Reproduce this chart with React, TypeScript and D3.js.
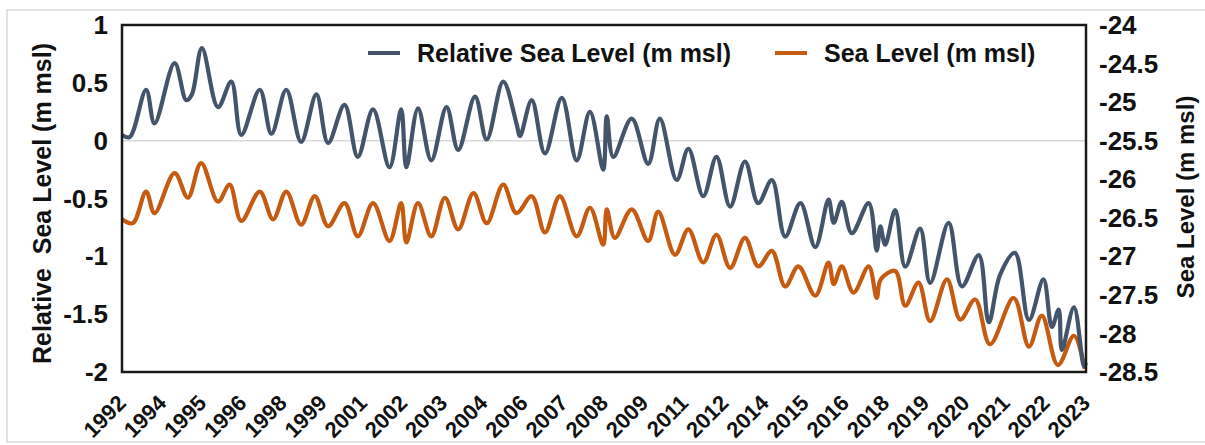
import React from 'react';
import * as d3 from 'd3';

// x positions are in axis-label units (0 = first label "1992", 24 = last label "2023")
const yearLabels = [
  '1992', '1994', '1995', '1996', '1998', '1999', '2001', '2002', '2003', '2004',
  '2006', '2007', '2008', '2009', '2011', '2012', '2014', '2015', '2016', '2018',
  '2019', '2020', '2021', '2022', '2023',
];

const leftTicks = [1, 0.5, 0, -0.5, -1, -1.5, -2];
const rightTicks = [-24, -24.5, -25, -25.5, -26, -26.5, -27, -27.5, -28, -28.5];

const relPos = [
  0, 0.19, 0.6, 0.81, 1.31, 1.6, 1.74, 1.99, 2.39, 2.72, 2.97, 3.43, 3.72, 4.09, 4.46,
  4.84, 5.13, 5.54, 5.87, 6.25, 6.66, 6.95, 7.08, 7.37, 7.7, 8.08, 8.37, 8.79, 9.08,
  9.49, 9.82, 9.91, 10.2, 10.53, 10.95, 11.32, 11.65, 11.98, 12.07, 12.23, 12.69,
  13.1, 13.39, 13.81, 14.1, 14.47, 14.8, 15.14, 15.51, 15.84, 16.18, 16.51, 16.89,
  17.26, 17.59, 17.72, 17.92, 18.17, 18.59, 18.79, 18.88, 19.0, 19.25, 19.5, 19.87,
  20.12, 20.58, 20.91, 21.33, 21.58, 21.86, 22.23, 22.58, 22.94, 23.15, 23.32, 23.4,
  23.7, 23.95, 24,
];
const relVals = [
  0.05, 0.03, 0.44, 0.15, 0.67, 0.35, 0.4, 0.8, 0.29, 0.51, 0.05, 0.44, 0.06, 0.44, -0.01,
  0.4, -0.02, 0.31, -0.14, 0.27, -0.23, 0.27, -0.23, 0.28, -0.17, 0.29, -0.08, 0.38, 0.01,
  0.51, 0.15, 0.04, 0.35, -0.11, 0.37, -0.17, 0.25, -0.25, 0.21, -0.14, 0.19,
  -0.2, 0.19, -0.34, -0.07, -0.48, -0.14, -0.57, -0.18, -0.54, -0.34, -0.83, -0.54,
  -0.92, -0.51, -0.71, -0.53, -0.8, -0.54, -0.95, -0.74, -0.9, -0.6, -1.09, -0.76,
  -1.23, -0.71, -1.26, -0.99, -1.57, -1.16, -0.97, -1.55, -1.2, -1.61, -1.46, -1.81,
  -1.44, -1.95, -1.92,
];

const seaPos = [
  0, 0.27, 0.6, 0.81, 1.31, 1.64, 1.97, 2.39, 2.68, 2.97, 3.43, 3.76, 4.09, 4.46, 4.8,
  5.13, 5.54, 5.87, 6.25, 6.66, 6.95, 7.08, 7.37, 7.7, 8.04, 8.37, 8.75, 9.08, 9.49,
  9.82, 10.2, 10.53, 10.9, 11.32, 11.65, 11.98, 12.07, 12.27, 12.69, 13.1, 13.35,
  13.77, 14.1, 14.47, 14.8, 15.14, 15.51, 15.84, 16.18, 16.51, 16.84, 17.26, 17.59,
  17.72, 17.92, 18.21, 18.59, 18.79, 18.89, 19.25, 19.5, 19.83, 20.12, 20.54, 20.87,
  21.24, 21.61, 22.2, 22.58, 22.9, 23.3, 23.7, 23.97,
];
const seaVals = [
  -26.52, -26.57, -26.16, -26.44, -25.92, -26.24, -25.79, -26.29, -26.07, -26.54, -26.16,
  -26.52, -26.16, -26.59, -26.22, -26.61, -26.31, -26.74, -26.31, -26.8, -26.31, -26.82,
  -26.31, -26.74, -26.24, -26.65, -26.18, -26.57, -26.07, -26.44, -26.22, -26.69, -26.22,
  -26.74, -26.37, -26.85, -26.39, -26.76, -26.39, -26.8, -26.42, -26.98, -26.65, -27.08,
  -26.72, -27.15, -26.76, -27.13, -26.93, -27.39, -27.13, -27.51, -27.08, -27.36, -27.13,
  -27.47, -27.13, -27.54, -27.3, -27.19, -27.64, -27.34, -27.84, -27.3, -27.82, -27.56,
  -28.14, -27.54, -28.17, -27.77, -28.41, -28.03, -28.46,
];

const BLUE = '#44546a';
const ORANGE = '#c55a11';
const FONT = '"Liberation Sans", Arial, sans-serif';

export default function App() {
  const width = 1205;
  const height = 445;
  const margin = { top: 25, right: 119, bottom: 73, left: 122 };
  const x0 = margin.left;
  const x1 = width - margin.right;
  const y0 = margin.top;
  const y1 = height - margin.bottom;

  const x = d3.scaleLinear().domain([0, yearLabels.length - 1]).range([x0, x1]);
  const yLeft = d3.scaleLinear().domain([-2, 1]).range([y1, y0]);
  const yRight = d3.scaleLinear().domain([-28.5, -24]).range([y1, y0]);

  const relLine = d3
    .line<number>()
    .x((d, i) => x(relPos[i]))
    .y((d) => yLeft(d))
    .curve(d3.curveCatmullRom.alpha(0.5));
  const seaLine = d3
    .line<number>()
    .x((d, i) => x(seaPos[i]))
    .y((d) => yRight(d))
    .curve(d3.curveCatmullRom.alpha(0.5));

  const labY = 399;

  return (
    <svg
      width={width}
      height={height}
      style={{ position: 'absolute', left: 0, top: 0, background: '#fff' }}
      fontFamily={FONT}
      fontWeight="bold"
    >
      <rect x={7} y={10} width={width} height={432} fill="#fff" stroke="#d9d9d9" strokeWidth={1.5} />

      {/* zero line */}
      <line x1={x0} x2={x1} y1={yLeft(0)} y2={yLeft(0)} stroke="#d9d9d9" strokeWidth={1.5} />

      <path d={seaLine(seaVals) || ''} fill="none" stroke={ORANGE} strokeWidth={4.2} strokeLinejoin="round" />
      <path d={relLine(relVals) || ''} fill="none" stroke={BLUE} strokeWidth={4.2} strokeLinejoin="round" />

      {/* plot frame */}
      <rect x={x0} y={y0} width={x1 - x0} height={y1 - y0} fill="none" stroke="#1a1a1a" strokeWidth={2.5} />

      {/* left axis */}
      {leftTicks.map((t) => (
        <text key={'l' + t} x={x0 - 14} y={yLeft(t)} dy="0.35em" textAnchor="end" fontSize={26} fill="#111">
          {t}
        </text>
      ))}
      {/* right axis */}
      {rightTicks.map((t) => (
        <text key={'r' + t} x={x1 + 13} y={yRight(t)} dy="0.35em" textAnchor="start" fontSize={26} fill="#111">
          {t}
        </text>
      ))}
      {/* x labels */}
      {yearLabels.map((lab, i) => (
        <text
          key={lab}
          x={x(i)}
          y={labY}
          dy="0.35em"
          textAnchor="end"
          fontSize={22}
          fill="#111"
          transform={`rotate(-45, ${x(i)}, ${labY})`}
        >
          {lab}
        </text>
      ))}

      {/* axis titles */}
      <text
        x={0}
        y={0}
        transform={`translate(42, ${(y0 + y1) / 2 + 5}) rotate(-90)`}
        textAnchor="middle"
        dy="0.35em"
        fontSize={25}
        fill="#111"
        style={{ whiteSpace: 'pre' }}
      >
        {'Relative  Sea Level (m msl)'}
      </text>
      <text
        x={0}
        y={0}
        transform={`translate(1186, 197) rotate(-90)`}
        textAnchor="middle"
        dy="0.35em"
        fontSize={24}
        fill="#111"
      >
        Sea Level (m msl)
      </text>

      {/* legend */}
      <line x1={368} x2={400} y1={53} y2={53} stroke={BLUE} strokeWidth={4} />
      <text x={417} y={53} dy="0.35em" fontSize={25} fill="#111">
        Relative Sea Level (m msl)
      </text>
      <line x1={775} x2={807} y1={53} y2={53} stroke={ORANGE} strokeWidth={4} />
      <text x={824} y={53} dy="0.35em" fontSize={25} fill="#111">
        Sea Level (m msl)
      </text>
    </svg>
  );
}
